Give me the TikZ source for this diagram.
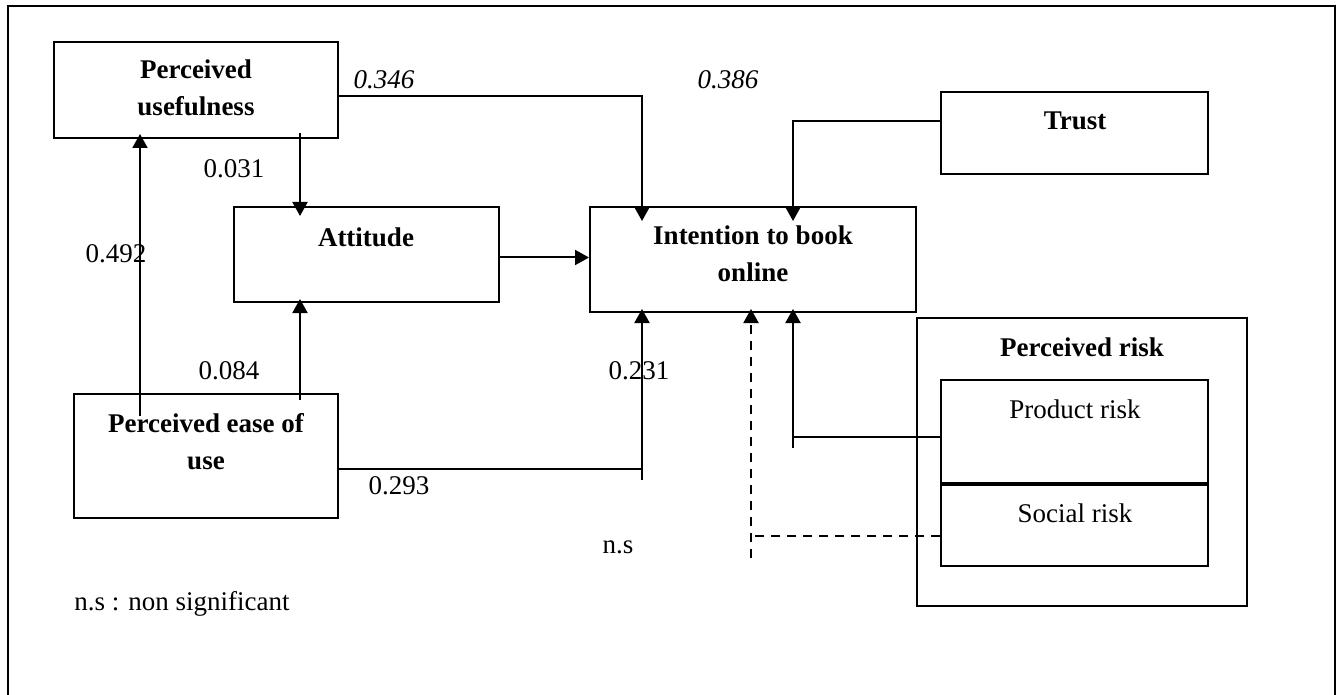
\documentclass[tikz,border=0pt]{standalone}
\usepackage{fontspec}
\setmainfont{Liberation Serif}
\usetikzlibrary{arrows.meta,calc}
\begin{document}
\begin{tikzpicture}[x=0.5pt,y=-0.5pt,
  font=\fontsize{13.5}{18.5}\selectfont,
  box/.style={draw,line width=1pt,inner sep=0pt},
  txt/.style={inner sep=0pt,align=center},
  btxt/.style={txt,font=\fontsize{13.5}{18.5}\selectfont\bfseries},
  conn/.style={line width=1pt},
  arr/.style={conn,-{Triangle[length=7pt,width=7.5pt]}},
  dsh/.style={dash pattern=on 4.5pt off 3.5pt}]
\useasboundingbox (0,0) rectangle (1343,695);
% outer frame (no bottom edge)
\draw[line width=1.4pt] (8,695) -- (8,6) -- (1335,6) -- (1335,695);

% boxes
\node[box,minimum width=142pt,minimum height=48pt] (PU) at (196,90) {};
\node[btxt] (PUt) at (196,88) {Perceived\\usefulness};
\node[box,minimum width=132.5pt,minimum height=47.5pt] (ATT) at (366.5,254.5) {};
\node[btxt] (ATTt) at (366,237) {Attitude};
\node[box,minimum width=163pt,minimum height=52.5pt] (INT) at (753,259.5) {};
\node[btxt] (INTt) at (753,254) {Intention to book\\online};
\node[box,minimum width=133.5pt,minimum height=41pt] (TR) at (1074.5,133) {};
\node[btxt] (TRt) at (1075,121) {Trust};
\node[box,minimum width=132pt,minimum height=62pt] (PEU) at (206,456) {};
\node[btxt] (PEUt) at (206,442) {Perceived ease of\\use};
\node[box,minimum width=165pt,minimum height=144pt] (PR) at (1082,462) {};
\node[btxt] (PRt) at (1082,347) {Perceived risk};
\node[box,minimum width=133.5pt,minimum height=51.5pt] (PDR) at (1074.5,431.5) {};
\node[txt] (PDRt) at (1075,409) {Product risk};
\node[box,minimum width=133.5pt,minimum height=41.5pt] (SR) at (1074.5,524.5) {};
\node[txt] (SRt) at (1075,513) {Social risk};
\draw[line width=1.6pt] (PDR.south west) -- (PDR.south east);

% connectors
\coordinate (c1) at ($(INT.north west)+(53,15)$);
\draw[arr] ($(PU.east)+(0,6)$) -| (c1);
\coordinate (c2) at ($(ATT.north west)+(67,10)$);
\draw[arr] ($(PU.south west)+(247,-6)$) -- (c2);
\coordinate (c3) at ($(INT.north west)+(204,15)$);
\draw[arr] ($(TR.west)+(0,-12)$) -| (c3);
\draw[arr] ($(ATT.east)+(0,3)$) -- (INT.west |- {$(ATT.east)+(0,3)$});
\coordinate (c5) at ($(PU.south west)+(87,-5)$);
\draw[arr] ($(PEU.north west)+(67,23)$) -- (c5);
\coordinate (c6) at ($(ATT.south west)+(67,-4)$);
\draw[arr] ($(PEU.north west)+(227,7)$) -- (c6);
\coordinate (c7) at ($(INT.south west)+(53,-4)$);
\draw[conn] ($(PEU.east)+(0,13)$) -- (c7 |- {$(PEU.east)+(0,13)$});
\draw[arr] (c7 |- {$(PEU.east)+(0,24)$}) -- (c7);
\coordinate (c8) at ($(INT.south west)+(204,-4)$);
\draw[conn] ($(PDR.west)+(0,5)$) -- (c8 |- {$(PDR.west)+(0,5)$});
\draw[arr] (c8 |- {$(PDR.west)+(0,16)$}) -- (c8);
\coordinate (c9) at ($(INT.south west)+(162,-4)$);
\draw[conn,dsh] ($(SR.west)+(0,11)$) -- (c9 |- {$(SR.west)+(0,11)$});
\draw[arr,dsh] (c9 |- {$(SR.west)+(0,33)$}) -- (c9);

% labels
\node[txt,font=\fontsize{13.5}{18.5}\selectfont\itshape] (l346) at (384,80) {0.346};
\node[txt,font=\fontsize{13.5}{18.5}\selectfont\itshape] (l386) at (728,80) {0.386};
\node[txt] (l031) at (234,169) {0.031};
\node[txt] (l492) at (116,254) {0.492};
\node[txt] (l084) at (229,371) {0.084};
\node[txt] (l231) at (639,371) {0.231};
\node[txt] (l293) at (399,486) {0.293};
\node[txt] (lns) at (618,547) {n.s};
\node[txt,anchor=west] (lnote) at (74,604) {n.s : non significant};
\end{tikzpicture}
\end{document}
